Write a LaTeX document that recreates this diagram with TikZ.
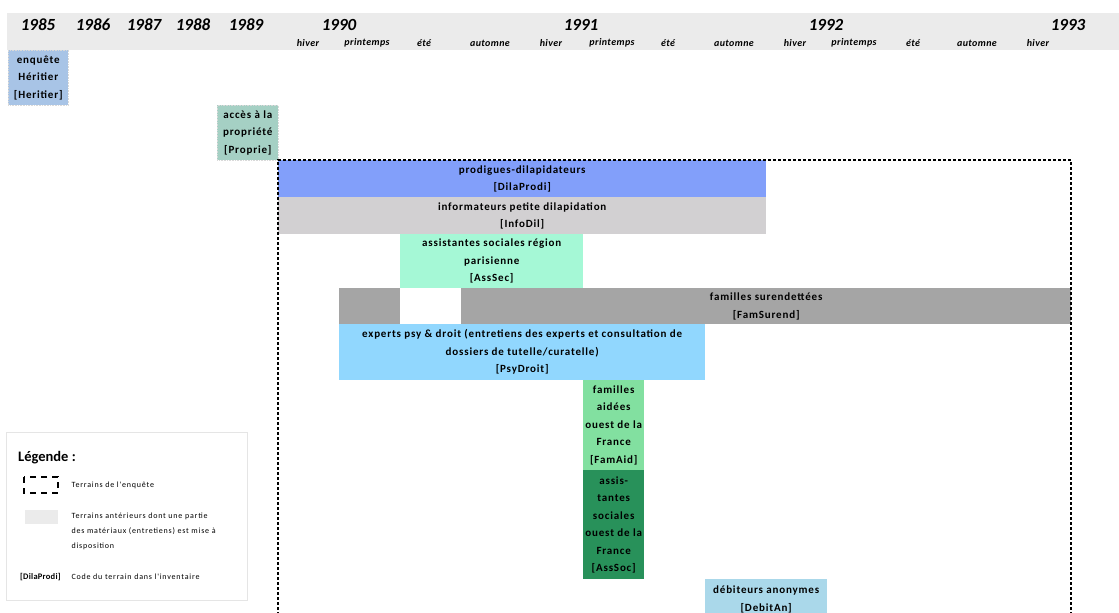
\documentclass[tikz,border=0pt]{standalone}
\usepackage{fontspec}
\setmainfont{Carlito}
\newfontfamily\boxf[LetterSpace=7.5]{Carlito}
\newfontfamily\seasf[LetterSpace=4]{Carlito}
\newfontfamily\legf[LetterSpace=10]{Carlito}
\newfontfamily\codef[LetterSpace=3]{Carlito}
\definecolor{band}{HTML}{EBEBEB}
\definecolor{cHer}{HTML}{A8C4E6}
\definecolor{cPro}{HTML}{A5D0C4}
\definecolor{cDila}{HTML}{829FFA}
\definecolor{cInfo}{HTML}{D2D0D2}
\definecolor{cAssSec}{HTML}{A5F8D6}
\definecolor{cSur}{HTML}{A5A5A5}
\definecolor{cPsy}{HTML}{91D7FE}
\definecolor{cFamAid}{HTML}{82E0A0}
\definecolor{cAssSoc}{HTML}{28915A}
\definecolor{cDeb}{HTML}{AAD8EA}
\begin{document}
\begin{tikzpicture}[x=1pt,y=-1pt,
  terrain/.style={rectangle,inner sep=0pt,anchor=north west,align=center,
    font=\boxf\bfseries\fontsize{11}{17.5}\selectfont},
  earlier/.style={terrain,draw=white!70!gray,densely dotted,line width=0.6pt},
  year/.style={font=\fontsize{17}{17}\selectfont\bfseries\itshape},
  season/.style={font=\seasf\fontsize{10}{10}\selectfont\bfseries\itshape},
  legtext/.style={anchor=west,align=left,font=\legf\fontsize{8}{15}\selectfont},
  frame/.style={line width=1.3pt,dash pattern=on 3pt off 2pt}]
\useasboundingbox (0,0) rectangle (1119,613);
\clip (0,0) rectangle (1119,613);
\fill[band] (7,13) rectangle (1119,50);
% years
\node[year] (y85) at (38,25) {1985};
\node[year] (y86) at (93,25) {1986};
\node[year] (y87) at (144,25) {1987};
\node[year] (y88) at (193,25) {1988};
\node[year] (y89) at (246,25) {1989};
\node[year] (y90) at (339,25) {1990};
\node[year] (y91) at (581,25) {1991};
\node[year] (y92) at (826,25) {1992};
\node[year] (y93) at (1068,25) {1993};
% seasons
\foreach \x/\s [count=\i] in {308/hiver,367/printemps,424/été,490/automne,551/hiver,612/printemps,668/été,734/automne,795/hiver,854/printemps,913/été,977/automne,1038/hiver}
  \node[season] (s\i) at (\x,43) {\s};
% early terrains
\node[earlier,fill=cHer,minimum width=60pt,minimum height=55pt] (her) at (8,50) {enquête\\Héritier\\{[}Heritier{]}};
\node[earlier,fill=cPro,minimum width=61pt,minimum height=55pt] (pro) at (217,105) {accès à la\\propriété\\{[}Proprie{]}};
% terrains of the survey
\node[terrain,fill=cDila,minimum width=488pt,minimum height=37pt] (dila) at (278,160) {prodigues-dilapidateurs\\{[}DilaProdi{]}};
\node[terrain,fill=cInfo,minimum width=488pt,minimum height=37pt] (info) at (278,197) {informateurs petite dilapidation\\{[}InfoDil{]}};
\node[terrain,fill=cAssSec,minimum width=183pt,minimum height=54pt] (asssec) at (400,234) {assistantes sociales région\\parisienne\\{[}AssSec{]}};
\fill[cSur] (339,288) rectangle (400,324);
\node[terrain,fill=cSur,minimum width=610pt,minimum height=36pt] (sur) at (461,288) {familles surendettées\\{[}FamSurend{]}};
\node[terrain,fill=cPsy,minimum width=366pt,minimum height=56pt] (psy) at (339,324) {experts psy \& droit (entretiens des experts et consultation de\\dossiers de tutelle/curatelle)\\{[}PsyDroit{]}};
\node[terrain,fill=cFamAid,minimum width=61pt,minimum height=90pt] (famaid) at (583,380) {familles\\aidées\\ouest de la\\France\\{[}FamAid{]}};
\node[terrain,fill=cAssSoc,minimum width=61pt,minimum height=109pt] (asssoc) at (583,470) {assis-\\tantes\\sociales\\ouest de la\\France\\{[}AssSoc{]}};
\node[terrain,fill=cDeb,minimum width=122pt,minimum height=40pt] (deb) at (705,579) {débiteurs anonymes\\{[}DebitAn{]}};
% survey frame
\draw[frame] (278,620) -- (278,160) -- (1071,160) -- (1071,620);
% legend
\node[draw=black!10,line width=1pt,rectangle,minimum width=241pt,minimum height=168pt,anchor=north west,inner sep=0pt] (leg) at (6,432) {};
\node[anchor=west,inner sep=0pt,font=\fontsize{14.5}{14.5}\selectfont\bfseries] (legt) at (18,458) {Légende :};
\draw[line width=1.8pt,dash pattern=on 6pt off 5pt] (24,477) rectangle (58,493);
\fill[black!8] (25,510) rectangle (58,524);
\node[legtext] (l1) at (68,485) {Terrains de l'enquête};
\node[legtext] (l2) at (68,531) {Terrains antérieurs dont une partie\\des matériaux (entretiens) est mise à\\disposition};
\node[anchor=west,inner sep=0pt,font=\codef\fontsize{8.5}{8.5}\selectfont\bfseries] (lcode) at (20,577) {[DilaProdi]};
\node[legtext] (l3) at (68,577) {Code du terrain dans l'inventaire};
\end{tikzpicture}
\end{document}
